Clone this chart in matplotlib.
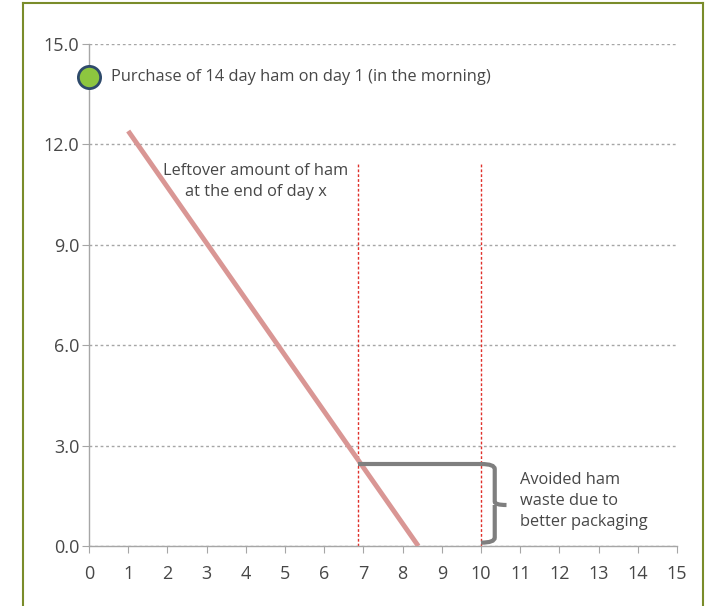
import numpy as np
import matplotlib
matplotlib.use("Agg")
import matplotlib.pyplot as plt
from matplotlib.path import Path
from matplotlib.patches import PathPatch
from matplotlib.lines import Line2D

plt.rcParams['font.family'] = ['Open Sans', 'DejaVu Sans']

# data
line_days = [1, 8.4]
leftover = [12.4, 0.0]
purchase_day = 0
purchase_amount = 14
old_cutoff = 6.86
new_cutoff = 10
waste_level = 2.45
cutoff_top = 11.45
x_ticks = list(range(0, 16))
y_ticks = [0, 3, 6, 9, 12, 15]

txt_col = '#474747'
axis_col = '#a6a6a6'

fig = plt.figure(figsize=(7.07, 6.06), dpi=100)
ax = fig.add_axes([0.1259, 0.099, 0.8317, 0.8284])

# green frame round the chart
fig.add_artist(Line2D([23/707, 23/707], [0, 1 - 3/606], color='#7a8c2a', lw=1.5))
fig.add_artist(Line2D([23/707, 703/707], [1 - 3/606, 1 - 3/606], color='#7a8c2a', lw=1.5))
fig.add_artist(Line2D([703/707, 703/707], [0, 1 - 3/606], color='#7a8c2a', lw=1.5))

ax.set_xlim(0, 15)
ax.set_ylim(0, 15)
ax.set_xticks(x_ticks)
ax.set_yticks(y_ticks)
ax.set_yticklabels([f"{v:.1f}" for v in y_ticks])
ax.yaxis.grid(True, color='#a6a6a6', linestyle=(0, (2, 2)), lw=1)
ax.set_axisbelow(True)
for s in ['top', 'right']:
    ax.spines[s].set_visible(False)
for s in ['left', 'bottom']:
    ax.spines[s].set_color(axis_col)
    ax.spines[s].set_linewidth(1)
ax.tick_params(axis='both', colors=axis_col, labelcolor=txt_col, labelsize=13, length=5)
ax.tick_params(axis='x', pad=9)
ax.tick_params(axis='y', pad=2)

# leftover ham
ax.plot(line_days, leftover, color='#d99694', lw=3.5, solid_capstyle='butt', zorder=3)

# best before lines
for c in [old_cutoff, new_cutoff]:
    ax.plot([c, c], [0, cutoff_top], color='#e0302a', lw=1, linestyle=(0, (2, 1.5)), zorder=2)

# avoided waste bracket
ax.plot([old_cutoff, new_cutoff], [waste_level, waste_level], color='#7f7f7f', lw=3, zorder=4,
        solid_capstyle='butt')
bx = new_cutoff + 0.35
mid = waste_level / 2
verts = [(new_cutoff, waste_level), (bx, waste_level), (bx, waste_level - 0.15),
         (bx, mid + 0.1), (bx, mid), (bx + 0.3, mid),
         (bx, mid), (bx, mid - 0.1),
         (bx, 0.25), (bx, 0.1), (new_cutoff, 0.1)]
codes = [Path.MOVETO, Path.CURVE3, Path.CURVE3,
         Path.LINETO, Path.CURVE3, Path.CURVE3,
         Path.MOVETO, Path.LINETO,
         Path.LINETO, Path.CURVE3, Path.CURVE3]
ax.add_patch(PathPatch(Path(verts, codes), facecolor='none', edgecolor='#7f7f7f', lw=3,
                       zorder=4, clip_on=False))

# purchase point
ax.plot([purchase_day], [purchase_amount], 'o', ms=16, mfc='#8dc63f', mec='#2e4a6b', mew=2,
        zorder=5, clip_on=False)

ax.text(0.55, purchase_amount, 'Purchase of 14 day ham on day 1 (in the morning)',
        fontsize=11.8, color=txt_col, va='center', ha='left')
ax.text(4.25, 10.9, 'Leftover amount of ham\nat the end of day x', fontsize=11.8, color=txt_col,
        va='center', ha='center', linespacing=1.4)
ax.text(11.0, 1.35, 'Avoided ham\nwaste due to\nbetter packaging', fontsize=11.8, color=txt_col,
        va='center', ha='left', linespacing=1.4)

fig.savefig('out.png', dpi=100, facecolor='white')
